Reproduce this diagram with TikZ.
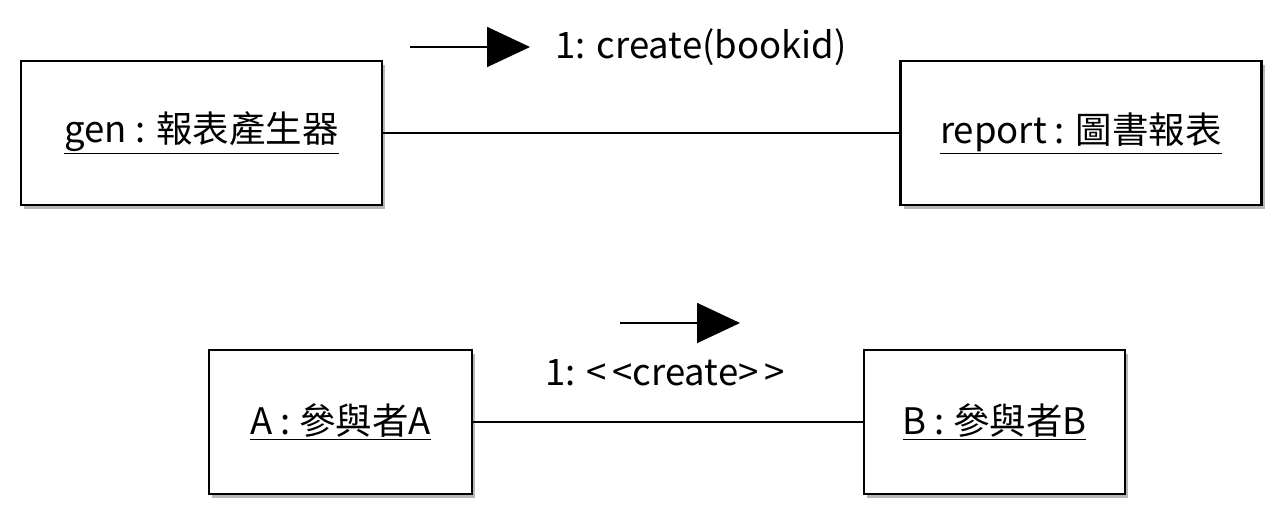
\documentclass[tikz,border=0pt]{standalone}
\usepackage{fontspec}
\setmainfont{Noto Sans CJK TC}
\usetikzlibrary{arrows.meta, positioning, shadows}

\begin{document}
\begin{tikzpicture}[
        x=1pt, y=-1pt,
        font=\fontsize{36.5}{42}\selectfont,
        % --- styles ---
        obj/.style={rectangle, draw, line width=2.4pt, fill=white, minimum height=144pt,
                    drop shadow={opacity=0.4, fill=black!70, shadow xshift=3pt, shadow yshift=-3.5pt}},
        link/.style={draw, line width=1.8pt},
        msg/.style={draw, line width=1.8pt, -{Triangle[length=43pt,width=40pt]}}
    ]
    \useasboundingbox (0,0) rectangle (1281,517);

    % --- objects ---
    \node[obj, minimum width=361pt] (gen) at (201.5,133) {\underline{gen : 報表產生器}};
    \node[obj, minimum width=361pt] (report) at (1081,133) {\underline{report : 圖書報表}};
    \node[obj, minimum width=263pt] (pa) at (340.5,422) {\underline{A : 參與者A}};
    \node[obj, minimum width=261pt] (pb) at (994.5,422) {\underline{B : 參與者B}};

    % --- links ---
    \path[link] (gen) -- (report);
    \path[link] (pa) -- (pb);

    % --- messages ---
    \coordinate (c1s) at (410,47);
    \coordinate (c1e) at (530,47);
    \path[msg] (c1s) -- (c1e);
    \node[right=22pt of c1e] (c1) {1: create(bookid)};

    \coordinate (c2s) at (620,323);
    \coordinate (c2e) at (740,323);
    \path[msg] (c2s) -- (c2e);
    \node (c2) at (665,373) {1: <\,<create>\,>};

\end{tikzpicture}
\end{document}
